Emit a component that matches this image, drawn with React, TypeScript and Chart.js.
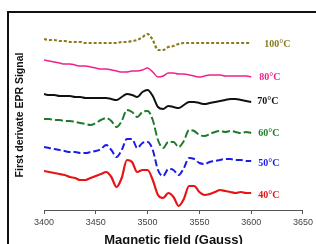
import React, { useEffect, useRef } from "react";
import { Chart, registerables } from "chart.js";

Chart.register(...registerables);

// Magnetic field (Gauss)
const field = [
  3400, 3405, 3410, 3415, 3420, 3425, 3430, 3435, 3440, 3445,
  3450, 3455, 3460, 3465, 3470, 3475, 3480, 3485, 3490, 3495,
  3500, 3505, 3510, 3515, 3520, 3525, 3530, 3535, 3540, 3545,
  3550, 3555, 3560, 3565, 3570, 3575, 3580, 3585, 3590, 3595, 3600,
];
const xTicks = [3400, 3450, 3500, 3550, 3600, 3650];
const seriesLabels = ["100°C", "80°C", "70°C", "60°C", "50°C", "40°C"];

// First derivative EPR signal (a.u., offset traces)
const s100 = [
  171, 170, 170, 169, 169, 168, 168, 168, 167, 167,
  167, 167, 167, 167, 167, 168, 168, 169, 170, 173,
  176, 170, 160, 160, 163, 164, 166, 167, 167, 167,
  167, 167, 167, 167, 167, 167, 167, 167, 167, 167, 167,
];
const s80 = [
  150, 149, 148, 147, 146, 146, 145, 144, 144, 143,
  142, 141, 141, 140, 139, 138, 138, 139, 139, 140,
  142, 138, 133, 134, 137, 137, 136, 136, 135, 134,
  133, 134, 135, 135, 135, 134, 134, 134, 134, 134, 133,
];
const s70 = [
  116, 115, 115, 114, 114, 114, 113, 113, 112, 112,
  112, 112, 112, 111, 110, 113, 116, 115, 113, 118,
  120, 114, 103, 101, 104, 103, 102, 105, 108, 108,
  107, 106, 107, 108, 109, 110, 111, 111, 110, 109, 108,
];
const s60 = [
  91, 91, 90, 90, 89, 89, 88, 87, 86, 85,
  87, 90, 92, 89, 83, 89, 100, 98, 93, 98,
  99, 90, 70, 62, 68, 68, 63, 69, 80, 79,
  75, 74, 76, 78, 79, 78, 79, 78, 77, 78, 77,
];
const s50 = [
  63, 62, 61, 60, 59, 58, 58, 57, 57, 58,
  59, 61, 65, 60, 53, 60, 71, 71, 62, 67,
  68, 60, 40, 34, 41, 40, 35, 42, 52, 51,
  47, 46, 48, 49, 50, 51, 51, 50, 50, 49, 49,
];
const s40 = [
  39, 38, 37, 36, 35, 33, 32, 30, 30, 32,
  34, 36, 38, 33, 23, 32, 50, 48, 38, 40,
  40, 30, 15, 12, 17, 13, 4, 11, 24, 24,
  18, 15, 16, 18, 20, 19, 18, 17, 18, 17, 17,
];

const seriesValues = [s100, s80, s70, s60, s50, s40];

const styles = [
  { color: "#8a7a22", width: 2.2, dash: [3, 2], labelDx: 13, labelDy: 1 },
  { color: "#f0208c", width: 1.5, dash: [], labelDx: 8, labelDy: 0 },
  { color: "#111111", width: 2, dash: [], labelDx: 6, labelDy: -1 },
  { color: "#1f7a2c", width: 2, dash: [8, 3], labelDx: 7, labelDy: 0 },
  { color: "#1c1ce8", width: 2, dash: [7, 3], labelDx: 7, labelDy: 2 },
  { color: "#e61414", width: 2.2, dash: [], labelDx: 7, labelDy: 2 },
];

const endLabels = {
  id: "endLabels",
  afterDatasetsDraw(chart: any) {
    const ctx = chart.ctx;
    ctx.save();
    ctx.font = "bold 10px 'Liberation Serif', serif";
    ctx.textBaseline = "middle";
    ctx.textAlign = "left";
    chart.data.datasets.forEach((ds: any, i: number) => {
      const meta = chart.getDatasetMeta(i);
      const pt = meta.data[meta.data.length - 1];
      ctx.fillStyle = styles[i].color;
      ctx.fillText(seriesLabels[i], pt.x + styles[i].labelDx, pt.y + styles[i].labelDy);
    });
    ctx.restore();
  },
};

export default function App() {
  const ref = useRef<HTMLCanvasElement | null>(null);
  useEffect(() => {
    if (!ref.current) return;
    const chart = new Chart(ref.current, {
      type: "line",
      data: {
        datasets: seriesValues.map((vals, i) => ({
          label: seriesLabels[i],
          data: vals.map((v, j) => ({ x: field[j], y: v })),
          borderColor: styles[i].color,
          borderWidth: styles[i].width,
          borderDash: styles[i].dash,
          pointRadius: 0,
          cubicInterpolationMode: "monotone",
          fill: false,
        })),
      },
      options: {
        responsive: false,
        animation: false,
        events: [],
        layout: { padding: { left: 0, right: 11, top: 20, bottom: 0 } },
        plugins: { legend: { display: false }, tooltip: { enabled: false } },
        scales: {
          x: {
            type: "linear",
            min: 3400,
            max: 3650,
            afterBuildTicks: (s: any) => {
              s.ticks = xTicks.map((v) => ({ value: v }));
            },
            afterFit: (s: any) => {
              s.height = 34;
            },
            ticks: {
              color: "#444",
              font: { family: "'Liberation Sans', Arial, sans-serif", size: 9 },
              padding: 3,
              maxRotation: 0,
              callback: (v: any) => String(v),
            },
            grid: { display: true, drawOnChartArea: false, tickLength: 4, color: "#555" },
            border: { display: true, color: "#555", width: 1 },
            title: {
              display: true,
              text: "Magnetic field (Gauss)",
              color: "#111",
              font: { family: "'Liberation Sans', Arial, sans-serif", size: 13, weight: "bold" },
              padding: { top: 0, bottom: -4 },
            },
          },
          y: {
            min: 0,
            max: 190,
            afterFit: (s: any) => {
              s.width = 44;
            },
            ticks: { display: false },
            grid: { display: false },
            border: { display: false },
            title: {
              display: true,
              text: "First derivate EPR Signal",
              color: "#111",
              font: { family: "'Liberation Sans', Arial, sans-serif", size: 10.5, weight: "bold" },
              padding: { top: 13.7, bottom: 0 },
            },
          },
        },
      },
      plugins: [endLabels],
    });
    return () => chart.destroy();
  }, []);

  return (
    <div style={{ position: "fixed", left: 0, top: 0, width: 316, height: 244, overflow: "hidden", background: "#fff" }}>
      <div
        style={{
          position: "absolute",
          left: 7,
          top: 11,
          width: 400,
          height: 400,
          borderLeft: "2px solid #111",
          borderTop: "2px solid #111",
        }}
      />
      <canvas ref={ref} width={316} height={244} style={{ position: "absolute", left: 0, top: 0, width: 316, height: 244 }} />
    </div>
  );
}
